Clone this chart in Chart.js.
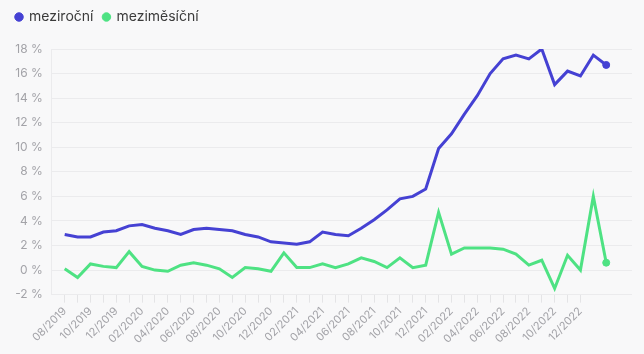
<!DOCTYPE html>
<html>
<head>
<meta charset="utf-8">
<script src="https://cdn.jsdelivr.net/npm/chart.js@4"></script>
<style>
  html, body { margin: 0; padding: 0; background: #f8f8f9; }
  #wrap { width: 644px; height: 354px; }
</style>
</head>
<body>
<div id="wrap"><canvas id="inflace"></canvas></div>
<script>
const months = [
  '08/2019', '09/2019', '10/2019', '11/2019', '12/2019',
  '01/2020', '02/2020', '03/2020', '04/2020', '05/2020', '06/2020',
  '07/2020', '08/2020', '09/2020', '10/2020', '11/2020', '12/2020',
  '01/2021', '02/2021', '03/2021', '04/2021', '05/2021', '06/2021',
  '07/2021', '08/2021', '09/2021', '10/2021', '11/2021', '12/2021',
  '01/2022', '02/2022', '03/2022', '04/2022', '05/2022', '06/2022',
  '07/2022', '08/2022', '09/2022', '10/2022', '11/2022', '12/2022',
  '01/2023', '02/2023'
];

const mezirocni = [
  2.9, 2.7, 2.7, 3.1, 3.2,
  3.6, 3.7, 3.4, 3.2, 2.9, 3.3,
  3.4, 3.3, 3.2, 2.9, 2.7, 2.3,
  2.2, 2.1, 2.3, 3.1, 2.9, 2.8,
  3.4, 4.1, 4.9, 5.8, 6.0, 6.6,
  9.9, 11.1, 12.7, 14.2, 16.0, 17.2,
  17.5, 17.2, 18.0, 15.1, 16.2, 15.8,
  17.5, 16.7
];

const mezimesicni = [
  0.1, -0.6, 0.5, 0.3, 0.2,
  1.5, 0.3, 0.0, -0.1, 0.4, 0.6,
  0.4, 0.1, -0.6, 0.2, 0.1, -0.1,
  1.4, 0.2, 0.2, 0.5, 0.2, 0.5,
  1.0, 0.7, 0.2, 1.0, 0.2, 0.4,
  4.7, 1.3, 1.8, 1.8, 1.8, 1.7,
  1.3, 0.4, 0.8, -1.5, 1.2, 0.0,
  6.0, 0.6
];

const yTicks = [-2, 0, 2, 4, 6, 8, 10, 12, 14, 16, 18];

// last labelled month on the axis (12/2022)
const lastLabel = 40;

const toPoints = arr => arr.map((v, i) => ({ x: i, y: v }));
const lastOnly = ctx => ctx.dataIndex === months.length - 1 ? 3.5 : 0;

// a bit of room under the legend
const legendGap = {
  id: 'legendGap',
  beforeInit(chart) {
    const fit = chart.legend.fit;
    chart.legend.fit = function () {
      fit.bind(chart.legend)();
      this.height += 15;
    };
  }
};

new Chart(document.getElementById('inflace'), {
  type: 'line',
  data: {
    datasets: [
      {
        label: 'meziroční',
        data: toPoints(mezirocni),
        borderColor: '#4541d3',
        backgroundColor: '#4541d3',
        borderWidth: 3,
        pointRadius: lastOnly,
        pointBorderWidth: 1,
        pointHoverRadius: 5,
        tension: 0
      },
      {
        label: 'meziměsíční',
        data: toPoints(mezimesicni),
        borderColor: '#4ee283',
        backgroundColor: '#4ee283',
        borderWidth: 3,
        pointRadius: lastOnly,
        pointBorderWidth: 1,
        pointHoverRadius: 5,
        tension: 0
      }
    ]
  },
  options: {
    responsive: true,
    maintainAspectRatio: false,
    animation: false,
    layout: { padding: { left: 6, right: 12, top: 0, bottom: 6 } },
    plugins: {
      legend: {
        position: 'top',
        align: 'start',
        labels: {
          usePointStyle: true,
          pointStyle: 'circle',
          boxWidth: 6,
          boxHeight: 6,
          padding: 10,
          color: '#3a3a3a',
          font: { family: 'Inter', size: 14 }
        }
      },
      tooltip: { enabled: true }
    },
    scales: {
      x: {
        type: 'linear',
        min: -1,
        max: 44,
        grid: {
          drawOnChartArea: false,
          drawTicks: true,
          tickLength: 8,
          tickColor: ctx => (ctx.tick && ctx.tick.value >= 0 && ctx.tick.value <= lastLabel) ? '#e4e4e6' : 'rgba(0,0,0,0)'
        },
        border: { display: false },
        ticks: {
          stepSize: 1,
          autoSkip: false,
          maxTicksLimit: 100,
          maxRotation: 45,
          minRotation: 45,
          padding: 2,
          color: '#a3a3a8',
          font: { family: 'Inter', size: 11 },
          callback: v => (v >= 0 && v <= lastLabel && v % 2 === 0) ? months[v] : ''
        }
      },
      y: {
        min: -2,
        max: 18,
        afterBuildTicks: axis => { axis.ticks = yTicks.map(v => ({ value: v })); },
        grid: { color: '#ebebed', drawTicks: false },
        border: { display: true, color: '#ebebed' },
        ticks: {
          padding: 9,
          color: '#a3a3a8',
          font: { family: 'Inter', size: 12 },
          callback: v => v + ' %'
        }
      }
    }
  },
  plugins: [legendGap]
});
</script>
</body>
</html>
